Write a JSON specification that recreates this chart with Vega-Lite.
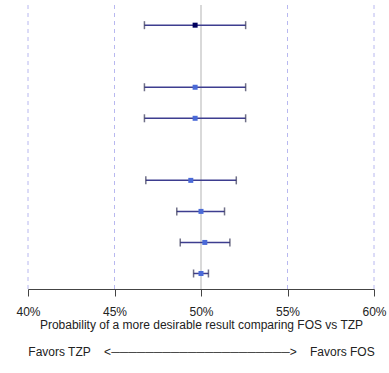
{
  "$schema": "https://vega.github.io/schema/vega-lite/v6.json",
  "width": 346,
  "height": 284,
  "autosize": "none",
  "padding": {"left": 28, "top": 5, "right": 15, "bottom": 84},
  "background": "white",
  "config": {"view": {"stroke": null}, "font": "Liberation Sans"},
  "datasets": {
    "refs": [{"pct": 40}, {"pct": 45}, {"pct": 55}, {"pct": 60}],
    "mid": [{"pct": 50}],
    "est": [
      {"slot": 9, "est": 49.66, "lo": 46.73, "hi": 52.58, "grp": "a"},
      {"slot": 7, "est": 49.66, "lo": 46.73, "hi": 52.58, "grp": "b"},
      {"slot": 6, "est": 49.66, "lo": 46.73, "hi": 52.58, "grp": "b"},
      {"slot": 4, "est": 49.41, "lo": 46.81, "hi": 52.04, "grp": "b"},
      {"slot": 3, "est": 50.0, "lo": 48.6, "hi": 51.36, "grp": "b"},
      {"slot": 2, "est": 50.22, "lo": 48.8, "hi": 51.67, "grp": "b"},
      {"slot": 1, "est": 50.0, "lo": 49.57, "hi": 50.43, "grp": "b"}
    ]
  },
  "layer": [
    {
      "data": {"name": "refs"},
      "mark": {"type": "rule", "stroke": "#b8b8f0", "strokeDash": [4, 4], "strokeWidth": 1},
      "encoding": {
        "x": {
          "field": "pct",
          "type": "quantitative",
          "scale": {"domain": [40, 60], "nice": false, "zero": false},
          "axis": {
            "values": [40, 45, 50, 55, 60],
            "labelExpr": "datum.value + '%'",
            "grid": false,
            "domainColor": "#444444",
            "tickColor": "#444444",
            "tickSize": 7,
            "labelFontSize": 12,
            "labelColor": "#222222",
            "labelPadding": 10,
            "labelFlush": false,
            "titleFontSize": 12,
            "titleFontWeight": "normal",
            "titleColor": "#222222",
            "titlePadding": 2,
            "titleLineHeight": 27,
            "title": [
              "Probability of a more desirable result comparing FOS vs TZP",
              "Favors TZP\u00a0\u00a0\u00a0\u00a0<─────────────────────>\u00a0\u00a0\u00a0\u00a0Favors FOS"
            ]
          }
        }
      }
    },
    {
      "data": {"name": "mid"},
      "mark": {"type": "rule", "stroke": "#cccccc", "strokeWidth": 1.5},
      "encoding": {"x": {"field": "pct", "type": "quantitative"}}
    },
    {
      "data": {"name": "est"},
      "mark": {"type": "rule", "stroke": "#3d3d8f", "strokeWidth": 1.5},
      "encoding": {
        "x": {"field": "lo", "type": "quantitative"},
        "x2": {"field": "hi"},
        "y": {"field": "slot", "type": "quantitative", "scale": {"domain": [0.5, 9.65], "nice": false, "zero": false}, "axis": null}
      }
    },
    {
      "data": {"name": "est"},
      "mark": {"type": "tick", "orient": "vertical", "size": 8, "thickness": 1.5, "color": "#333355"},
      "encoding": {
        "x": {"field": "lo", "type": "quantitative"},
        "y": {"field": "slot", "type": "quantitative"}
      }
    },
    {
      "data": {"name": "est"},
      "mark": {"type": "tick", "orient": "vertical", "size": 8, "thickness": 1.5, "color": "#333355"},
      "encoding": {
        "x": {"field": "hi", "type": "quantitative"},
        "y": {"field": "slot", "type": "quantitative"}
      }
    },
    {
      "data": {"name": "est"},
      "mark": {"type": "square", "size": 25, "filled": true, "opacity": 1},
      "encoding": {
        "x": {"field": "est", "type": "quantitative"},
        "y": {"field": "slot", "type": "quantitative"},
        "color": {"field": "grp", "type": "nominal", "scale": {"domain": ["a", "b"], "range": ["#00005e", "#4a6ad8"]}, "legend": null}
      }
    }
  ]
}
